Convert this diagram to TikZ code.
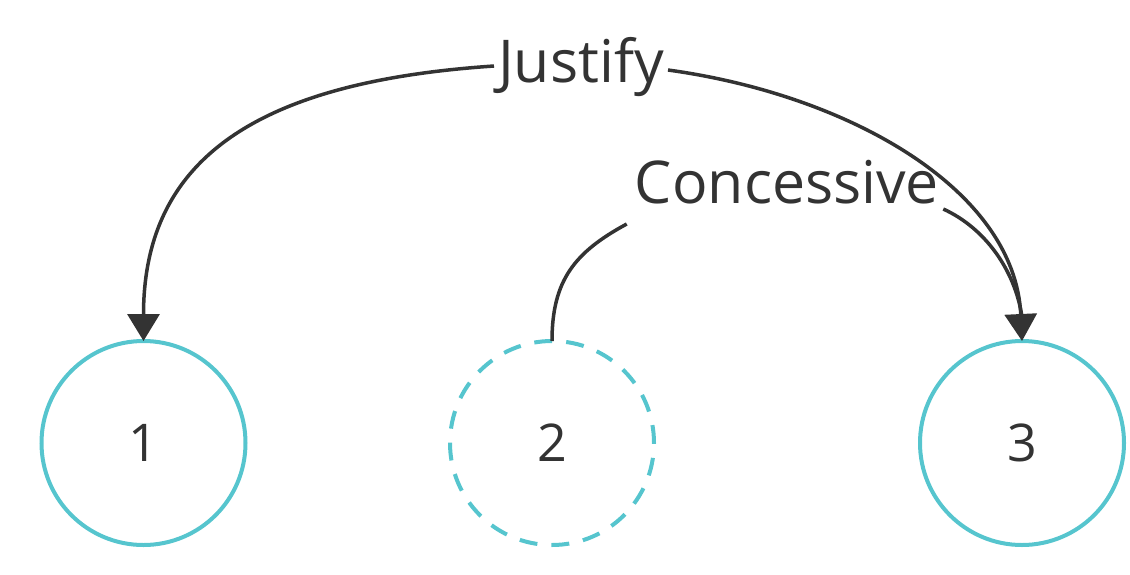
\documentclass[tikz,border=0pt]{standalone}
\usepackage{fontspec}
\setmainfont{Open Sans}
\usetikzlibrary{arrows.meta}
\definecolor{teal1}{HTML}{56C5CE}
\definecolor{ink}{HTML}{333333}
\tikzset{
  unit/.style={circle, draw=teal1, line width=4pt, minimum size=204pt, inner sep=0pt, outer sep=0pt, text=ink, font=\fontsize{52}{54}\selectfont},
  dunit/.style={unit, dash pattern=on 18pt off 14pt},
  rel/.style={text=ink, inner sep=0pt, font=\fontsize{59}{61}\selectfont},
  conn/.style={draw=ink, line width=3.5pt},
  tip/.style={-{Triangle[width=32pt,length=27pt]}}
}
\begin{document}
\begin{tikzpicture}[x=1pt,y=-1pt]
\useasboundingbox (0,0) rectangle (1130,574);
\node[unit] (u1) at (143.5,443) {1};
\node[dunit] (u2) at (552,443) {2};
\node[unit] (u3) at (1022,443) {3};
\node[rel, anchor=base] (lj) at (581,82) {Justify};
\node[rel, anchor=base] (lc) at (787,203) {Concessive};
\coordinate (j1) at ([xshift=-4pt,yshift=16pt]lj.base west);
\coordinate (j2) at ([xshift=4pt,yshift=12pt]lj.base east);
\coordinate (c1) at ([xshift=-8pt,yshift=-21pt]lc.base west);
\coordinate (c2) at ([xshift=4pt,yshift=-6pt]lc.base east);
\draw[conn,tip] (j1) .. controls (255,82) and (143.5,160) .. (u1.north);
\draw[conn,tip] (j2) .. controls (850,95) and (1015,190) .. (u3.north);
\draw[conn] (u2.north) .. controls (552,280) and (575,252) .. (c1);
\draw[conn] (c2) .. controls (985,228) and (1015,270) .. ([yshift=24pt]u3.north);
\end{tikzpicture}
\end{document}
